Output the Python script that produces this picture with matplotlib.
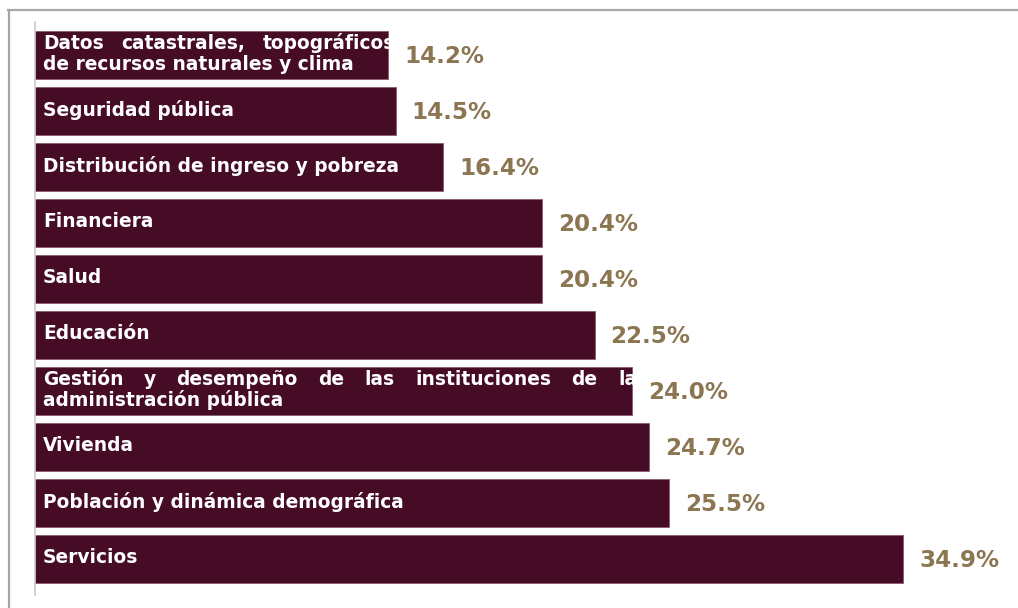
import matplotlib
matplotlib.use("Agg")
import matplotlib.pyplot as plt
from matplotlib.lines import Line2D

categories = [
    "Datos catastrales, topográficos y\nde recursos naturales y clima",
    "Seguridad pública",
    "Distribución de ingreso y pobreza",
    "Financiera",
    "Salud",
    "Educación",
    "Gestión y desempeño de las instituciones de la\nadministración pública",
    "Vivienda",
    "Población y dinámica demográfica",
    "Servicios",
]
values = [14.2, 14.5, 16.4, 20.4, 20.4, 22.5, 24.0, 24.7, 25.5, 34.9]
value_labels = ["14.2%", "14.5%", "16.4%", "20.4%", "20.4%", "22.5%",
                "24.0%", "24.7%", "25.5%", "34.9%"]

BAR_COLOR = "#460b25"
EDGE_COLOR = "#8a5a6e"
VALUE_COLOR = "#8b7651"
FONT = "DejaVu Sans"
# justified paragraph box widths (px) for wrapped labels
justify_box_px = {0: 382, 6: 594}

W, H = 1018, 608
fig = plt.figure(figsize=(W / 100, H / 100), dpi=100)
ax = fig.add_axes([35 / W, 13 / H, (1000 - 35) / W, (595 - 22) / H])

pos = list(range(len(values)))
bars = ax.barh(pos, values, height=0.857, color=BAR_COLOR,
               edgecolor=EDGE_COLOR, linewidth=0.6)
ax.set_xlim(0, 38.8)
ax.set_ylim(9.643, -0.589)

for s in ["top", "right", "bottom"]:
    ax.spines[s].set_visible(False)
ax.spines["left"].set_color("#c8c8c8")
ax.spines["left"].set_linewidth(1.2)
ax.set_xticks([])
ax.set_yticks([])

# outer frame lines (top and left)
fig.add_artist(Line2D([8 / W, 1.0], [1 - 10 / H, 1 - 10 / H],
                      transform=fig.transFigure, color="#a6a6a6", lw=1.6))
fig.add_artist(Line2D([9 / W, 9 / W], [1 - 10 / H, 0.0],
                      transform=fig.transFigure, color="#a6a6a6", lw=1.6))

fig.canvas.draw()
renderer = fig.canvas.get_renderer()
to_data = ax.transData.inverted()

LABEL_SIZE = 13.4
LINE_PX = 21

for i, (cat, v, bar) in enumerate(zip(categories, values, bars)):
    x0_disp, yc_disp = ax.transData.transform((0, i))
    bar_end_disp = ax.transData.transform((v, i))[0]
    left_px = x0_disp + 8
    lines = cat.split("\n")
    n = len(lines)
    for li, line in enumerate(lines):
        y_disp = yc_disp + ((n - 1) / 2 - li) * LINE_PX + 1
        if n > 1 and li < n - 1 and i in justify_box_px:
            words = line.split(" ")
            widths = []
            for w in words:
                t = ax.text(0, 0, w, fontsize=LABEL_SIZE, fontweight="bold",
                            family=FONT)
                widths.append(t.get_window_extent(renderer).width)
                t.remove()
            gap = (justify_box_px[i] - sum(widths)) / (len(words) - 1)
            xcur = left_px
            for w, wd in zip(words, widths):
                if xcur < bar_end_disp - 2:
                    xd, yd = to_data.transform((xcur, y_disp))
                    t = ax.text(xd, yd, w, fontsize=LABEL_SIZE,
                                fontweight="bold", family=FONT, color="white",
                                ha="left", va="center")
                    t.set_clip_path(bar)
                xcur += wd + gap
        else:
            xd, yd = to_data.transform((left_px, y_disp))
            t = ax.text(xd, yd, line, fontsize=LABEL_SIZE, fontweight="bold",
                        family=FONT, color="white", ha="left", va="center")
            t.set_clip_path(bar)

    ax.annotate(value_labels[i], xy=(v, i), xytext=(16 * 0.72, -2 * 0.72),
                textcoords="offset points", ha="left", va="center",
                fontsize=16.6, fontweight="bold", family=FONT,
                color=VALUE_COLOR)

fig.savefig("out.png", dpi=100, facecolor="white")
